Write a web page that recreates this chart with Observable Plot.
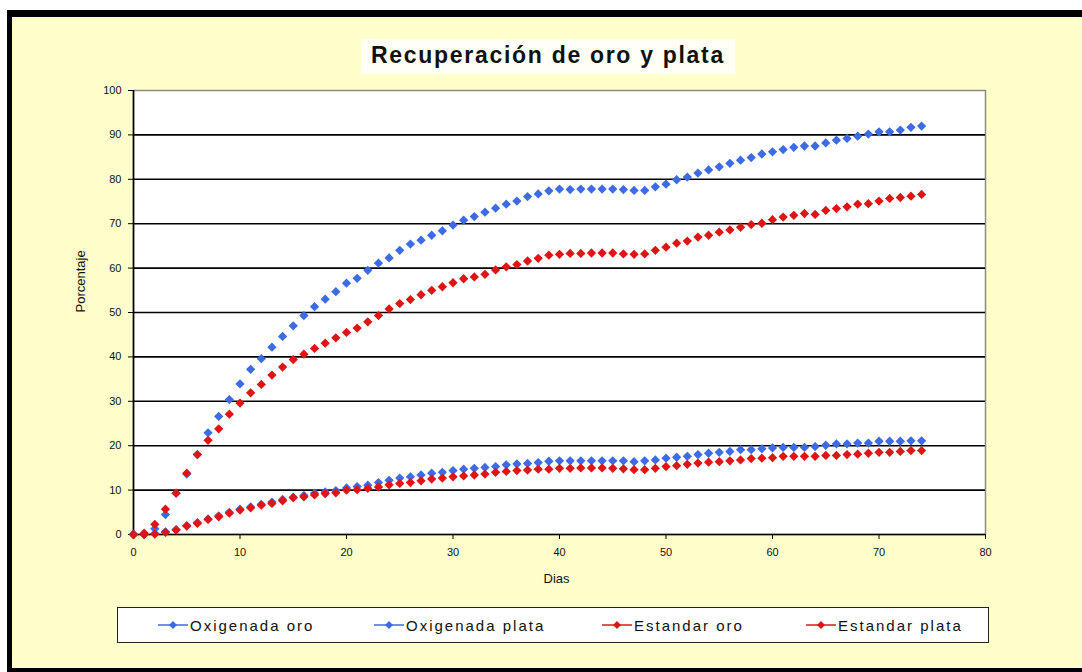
<!DOCTYPE html>
<html>
<head>
<meta charset="utf-8">
<script src="https://cdn.jsdelivr.net/npm/d3@7"></script>
<script src="https://cdn.jsdelivr.net/npm/@observablehq/plot@0.6"></script>
<style>
  html, body { margin: 0; padding: 0; background: #ffffff; width: 1082px; height: 672px; overflow: hidden; font-family: "Liberation Sans", Arial, sans-serif; }
  #frame { position: absolute; left: 7px; top: 10px; width: 1070px; height: 651px; border-top: 7px solid #000; border-left: 5px solid #000; border-bottom: 4px solid #000; background: #ffffcc; }
  #title { position: absolute; left: 0; width: 1096px; top: 42px; text-align: center; }
  #title span { background: #fffff6; padding: 3px 10px 6px 10px; font-size: 23px; font-weight: bold; letter-spacing: 1.7px; color: #111; }
  #chart { position: absolute; left: 0; top: 0; }
  #legend { position: absolute; left: 117px; top: 607px; width: 870px; height: 34px; border: 1.5px solid #222; background: #ffffff; }
  .item { position: absolute; top: 0; height: 34px; display: flex; align-items: center; font-size: 15px; letter-spacing: 2px; color: #111; }
  .item svg { margin-right: 2px; }
</style>
</head>
<body>
<div id="frame"></div>
<div id="title"><span>Recuperación de oro y plata</span></div>
<div id="chart"></div>
<div id="legend"></div>
<script>
// ---- Data ----
const days = [0,1,2,3,4,5,6,7,8,9,10,11,12,13,14,15,16,17,18,19,20,21,22,23,24,25,26,27,28,29,30,31,32,33,34,35,36,37,38,39,40,41,42,43,44,45,46,47,48,49,50,51,52,53,54,55,56,57,58,59,60,61,62,63,64,65,66,67,68,69,70,71,72,73,74];

const oxigenadaOro = [0,0.2,1.3,4.5,9.3,13.6,18.0,22.9,26.6,30.4,33.9,37.2,39.6,42.2,44.6,47.0,49.3,51.3,53.0,54.7,56.6,57.7,59.5,61.1,62.3,64.0,65.4,66.3,67.4,68.4,69.7,70.8,71.6,72.6,73.5,74.4,75.1,76.1,76.7,77.4,77.8,77.7,77.8,77.8,77.8,77.8,77.7,77.5,77.5,78.3,78.9,79.9,80.5,81.4,82.1,82.8,83.6,84.3,84.9,85.7,86.2,86.7,87.2,87.5,87.5,88.2,88.8,89.2,89.7,90.2,90.7,90.7,91.1,91.7,92.0];

const oxigenadaPlata = [0,0,0.2,0.6,1.1,2.0,2.7,3.5,4.2,5.0,5.7,6.2,6.8,7.3,7.9,8.4,8.8,9.3,9.6,9.9,10.5,10.8,11.1,11.7,12.2,12.7,13.0,13.4,13.8,14.0,14.4,14.7,14.9,15.1,15.3,15.7,15.9,16.0,16.2,16.5,16.6,16.6,16.6,16.6,16.6,16.6,16.6,16.4,16.6,16.8,17.2,17.4,17.6,18.0,18.3,18.5,18.7,19.1,19.1,19.3,19.5,19.6,19.6,19.6,19.8,20.1,20.4,20.4,20.6,20.6,21.0,21.0,21.0,21.1,21.1];

const estandarOro = [0,0.3,2.3,5.7,9.3,13.8,18.0,21.2,23.8,27.1,29.6,31.9,33.8,35.9,37.7,39.4,40.6,41.9,43.1,44.3,45.5,46.5,47.9,49.3,50.8,52.0,52.9,54.0,55.0,55.8,56.7,57.6,58.0,58.6,59.6,60.3,60.8,61.6,62.2,62.9,63.1,63.3,63.3,63.4,63.4,63.4,63.2,63.1,63.2,64.0,64.7,65.6,66.1,67.0,67.4,68.1,68.6,69.2,69.8,70.1,70.9,71.5,71.9,72.3,72.1,73.0,73.4,73.8,74.4,74.5,75.1,75.7,75.9,76.2,76.6];

const estandarPlata = [0,0,0.1,0.5,1.0,1.9,2.5,3.4,4.0,4.8,5.5,6.0,6.6,7.0,7.6,8.3,8.5,8.9,9.2,9.4,10.0,10.1,10.4,10.7,11.2,11.5,11.7,12.1,12.5,12.7,13.0,13.2,13.4,13.6,14.0,14.2,14.4,14.5,14.7,14.7,14.9,14.9,15.0,15.0,15.0,14.9,14.8,14.6,14.6,14.9,15.3,15.5,15.8,16.1,16.3,16.4,16.6,16.8,17.1,17.2,17.3,17.6,17.6,17.6,17.6,17.8,17.8,18.0,18.1,18.3,18.5,18.5,18.7,18.9,18.9];

const seriesNames = ["Oxigenada oro", "Oxigenada plata", "Estandar oro", "Estandar plata"];
const seriesColors = ["#3d6be6", "#3d6be6", "#e01414", "#e01414"];
const seriesValues = [oxigenadaOro, oxigenadaPlata, estandarOro, estandarPlata];

const xTicks = [0,10,20,30,40,50,60,70,80];
const yTicks = [0,10,20,30,40,50,60,70,80,90,100];
const yGrid = [10,20,30,40,50,60,70,80,90];

// ---- Build tables ----
const series = seriesNames.map((name, i) => ({
  name, color: seriesColors[i],
  data: days.map((d, j) => ({day: d, value: seriesValues[i][j], series: name}))
}));

// square diamond symbol (Excel-style)
const diamond = {
  draw(context, size) {
    const h = Math.sqrt(size / 2);
    context.moveTo(0, -h);
    context.lineTo(h, 0);
    context.lineTo(0, h);
    context.lineTo(-h, 0);
    context.closePath();
  }
};

const marks = [
  Plot.frame({fill: "#ffffff", stroke: "#8c8c78", strokeWidth: 1.5}),
  Plot.ruleY(yGrid, {stroke: "#000", strokeWidth: 1.6}),
  Plot.ruleY([0], {stroke: "#000", strokeWidth: 1.6}),
  Plot.ruleX([0], {stroke: "#000", strokeWidth: 1.6}),
  Plot.axisY({ticks: yTicks, tickSize: 5, tickPadding: 7, fontSize: 11, label: null, stroke: "#000"}),
  Plot.axisX({ticks: xTicks, tickSize: 5, tickPadding: 9, fontSize: 11, label: null, stroke: "#000"}),
  Plot.text(["Porcentaje"], {frameAnchor: "left", dx: -53, rotate: -90, fontSize: 13, fill: "#111"}),
  Plot.text(["Dias"], {frameAnchor: "bottom", dy: 48, dx: -3, fontSize: 13, fill: "#111"})
];
for (const s of series) {
  marks.push(Plot.dot(s.data, {x: "day", y: "value", symbol: diamond, r: 3.7, fill: s.color, stroke: "none"}));
}

const chart = Plot.plot({
  width: 1082,
  height: 600,
  marginLeft: 133,
  marginRight: 97,
  marginTop: 90,
  marginBottom: 66,
  style: {background: "transparent", fontFamily: "'Liberation Sans', Arial, sans-serif", color: "#111", overflow: "visible"},
  x: {domain: [0, 80]},
  y: {domain: [0, 100]},
  marks
});
document.getElementById("chart").appendChild(chart);

// ---- Legend ----
const legendX = [40, 256, 484, 688];
const legend = document.getElementById("legend");
series.forEach((s, i) => {
  const item = document.createElement("div");
  item.className = "item";
  item.style.left = legendX[i] + "px";
  item.innerHTML = `<svg width="30" height="12"><line x1="0" y1="6" x2="30" y2="6" stroke="${s.color}" stroke-width="1.5"/><path d="M15,2 L19,6 L15,10 L11,6 Z" fill="${s.color}"/></svg><span>${s.name}</span>`;
  legend.appendChild(item);
});
</script>
</body>
</html>
